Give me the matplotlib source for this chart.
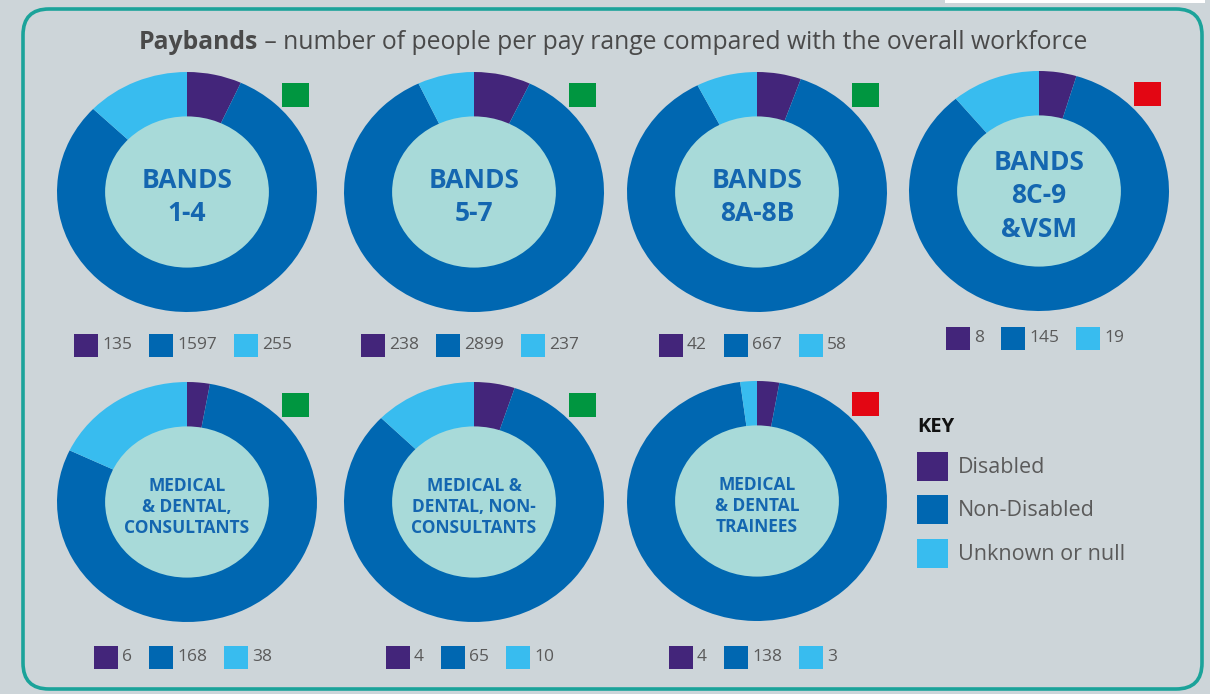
import matplotlib
matplotlib.use('Agg')
import matplotlib.pyplot as plt
from matplotlib.patches import FancyBboxPatch, Rectangle, Circle

plt.rcParams['font.family'] = ['Open Sans', 'DejaVu Sans']

# pay range groups and head counts
groups = ['BANDS\n1-4', 'BANDS\n5-7', 'BANDS\n8A-8B', 'BANDS\n8C-9\n&VSM',
          'MEDICAL\n& DENTAL,\nCONSULTANTS', 'MEDICAL &\nDENTAL, NON-\nCONSULTANTS',
          'MEDICAL\n& DENTAL\nTRAINEES']
disabled = [135, 238, 42, 8, 6, 4, 4]
non_disabled = [1597, 2899, 667, 145, 168, 65, 138]
unknown = [255, 237, 58, 19, 38, 10, 3]
# rating flag shown next to each ring
rating = ['good', 'good', 'good', 'poor', 'good', 'good', 'poor']
key_labels = ['Disabled', 'Non-Disabled', 'Unknown or null']

title_bold = 'Paybands'
title_rest = ' \u2013 number of people per pay range compared with the overall workforce'

# colours
BG = '#CDD5D9'
PURPLE = '#43257A'
BLUE = '#0067B1'
LIGHT = '#38BCEF'
INNER = '#A8DAD9'
LABEL = '#1466B0'
GREY = '#5A5A5A'
FLAG = {'good': '#009640', 'poor': '#E30613'}
seg_colors = [PURPLE, BLUE, LIGHT]

W, H = 1210, 694
fig = plt.figure(figsize=(W / 100, H / 100), dpi=100, facecolor=BG)
ax = fig.add_axes([0, 0, 1, 1])
ax.set_xlim(0, W)
ax.set_ylim(H, 0)
ax.axis('off')

# rounded frame
ax.add_patch(FancyBboxPatch((23, 9), 1179, 680,
                            boxstyle='round,pad=0,rounding_size=26',
                            facecolor='none', edgecolor='#1BA39A', lw=2.6))
ax.add_patch(Rectangle((945, 0), 260, 3, facecolor='white', edgecolor='none'))

renderer = fig.canvas.get_renderer()

# title: bold lead word followed by regular text
t1 = ax.text(139, 42, title_bold, fontsize=17.8, fontweight='bold',
             color='#4A4A4A', va='center', ha='left')
bb = t1.get_window_extent(renderer)
ax.text(139 + bb.width, 42, title_rest, fontsize=17.8, color='#4A4A4A',
        va='center', ha='left')

# ring layout (pixel centres) and legend rows
centers = [(187, 192), (474, 192), (757, 192), (1039, 191),
           (187, 502), (474, 502), (757, 501)]
legend_y = [345, 345, 345, 338, 657, 657, 657]
rx, ry = 130, 120

for i, (cx, cy) in enumerate(centers):
    vals = [disabled[i], non_disabled[i], unknown[i]]
    m = 1.02
    dax = fig.add_axes([(cx - rx * m) / W, 1 - (cy + ry * m) / H,
                        2 * rx * m / W, 2 * ry * m / H])
    dax.pie(vals, colors=seg_colors, startangle=90, counterclock=False,
            radius=1.0, wedgeprops=dict(width=0.39, linewidth=0))
    dax.add_patch(Circle((0, 0), 0.63, facecolor=INNER, edgecolor='none'))
    dax.set_aspect('auto')
    dax.set_xlim(-m, m)
    dax.set_ylim(-m, m)
    dax.axis('off')

    if i < 4:
        dax.text(0, -0.04, groups[i], ha='center', va='center', fontsize=19,
                 fontweight='bold', color=LABEL, linespacing=1.3)
    else:
        dax.text(0, -0.04, groups[i], ha='center', va='center', fontsize=12.5,
                 fontweight='bold', color=LABEL, linespacing=1.2)

    # rating flag
    ax.add_patch(Rectangle((cx + 95, cy - 109), 27, 24,
                           facecolor=FLAG[rating[i]], edgecolor='none'))

    # counts row under the ring
    texts = [str(v) for v in vals]
    widths = []
    for s in texts:
        tt = ax.text(0, 0, s, fontsize=12.5)
        widths.append(tt.get_window_extent(renderer).width)
        tt.remove()
    sq, gap_in, gap_out = 24, 4, 17
    total = sum(sq + gap_in + w for w in widths) + gap_out * 2
    x = cx - 4 - total / 2
    ly = legend_y[i]
    for s, w, c in zip(texts, widths, seg_colors):
        ax.add_patch(Rectangle((x, ly - 11.5), sq, 23, facecolor=c,
                               edgecolor='none'))
        ax.text(x + sq + gap_in, ly, s, fontsize=12.5, color=GREY,
                va='center', ha='left')
        x += sq + gap_in + w + gap_out

# key
ax.text(917, 427, 'KEY', fontsize=14.5, fontweight='bold', color='#111111',
        va='center', ha='left')
for j, (lab, c) in enumerate(zip(key_labels, seg_colors)):
    y = 466 + j * 43.5
    ax.add_patch(Rectangle((917, y - 14.5), 31, 29, facecolor=c, edgecolor='none'))
    ax.text(958, y + 1, lab, fontsize=15.5, color=GREY, va='center', ha='left')

fig.savefig('out.png', dpi=100, facecolor=BG)
